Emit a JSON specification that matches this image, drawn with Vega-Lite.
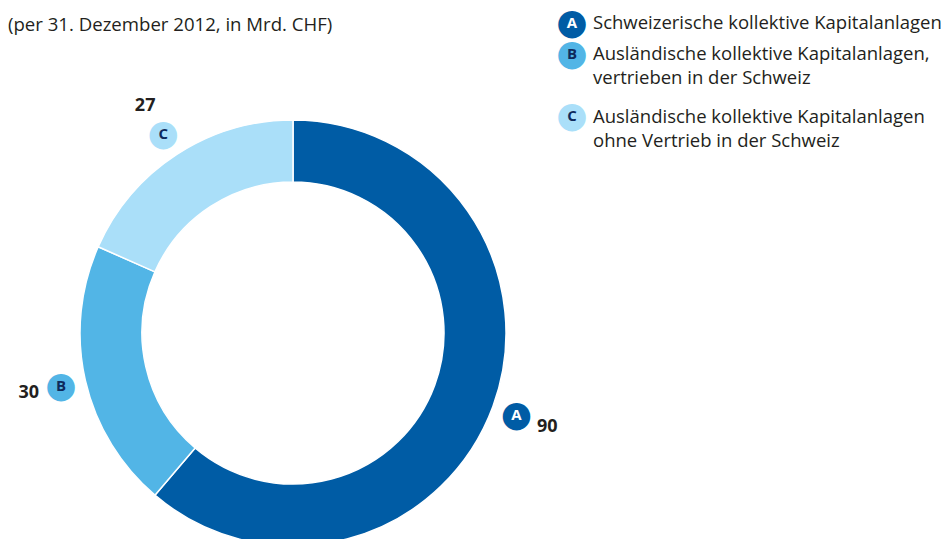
{
  "$schema": "https://vega.github.io/schema/vega-lite/v6.json",
  "padding": 0,
  "background": "white",
  "spacing": 0,
  "bounds": "flush",
  "config": {"view": {"stroke": null}, "font": "Open Sans"},
  "data": {"values": [
    {"key": "A", "value": 90, "label": "Schweizerische kollektive Kapitalanlagen"},
    {"key": "B", "value": 30, "label": "Ausländische kollektive Kapitalanlagen,\nvertrieben in der Schweiz"},
    {"key": "C", "value": 27, "label": "Ausländische kollektive Kapitalanlagen\nohne Vertrieb in der Schweiz"}
  ]},
  "hconcat": [
    {
      "width": 586,
      "height": 666,
      "title": {"text": "(per 31. Dezember 2012, in Mrd. CHF)", "anchor": "start", "offset": -35, "dx": 8, "fontSize": 18.6, "fontWeight": "normal", "font": "Open Sans", "color": "#231F20"},
      "encoding": {
        "theta": {"field": "value", "type": "quantitative", "stack": true},
        "order": {"field": "key", "type": "ordinal", "sort": "ascending"},
        "detail": {"field": "key", "type": "nominal"}
      },
      "layer": [
        {
          "mark": {"type": "arc", "outerRadius": 213, "innerRadius": 151, "stroke": "#ffffff", "strokeWidth": 1.5},
          "encoding": {"color": {"field": "key", "type": "nominal", "scale": {"domain": ["A", "B", "C"], "range": ["#005CA5", "#52B5E6", "#AADFF9"]}, "legend": null}}
        },
        {
          "mark": {"type": "text", "radius": 238, "text": "●", "font": "DejaVu Sans", "fontSize": 36, "baseline": "middle", "align": "center"},
          "encoding": {"color": {"field": "key", "type": "nominal", "scale": {"domain": ["A", "B", "C"], "range": ["#005CA5", "#52B5E6", "#AADFF9"]}, "legend": null}}
        },
        {
          "mark": {"type": "text", "radius": 238, "fontWeight": "bold", "fontSize": 15, "baseline": "middle", "align": "center"},
          "encoding": {
            "text": {"field": "key", "type": "nominal"},
            "color": {"condition": {"test": "datum.key === 'A'", "value": "#ffffff"}, "value": "#0E2A5C"}
          }
        },
        {
          "mark": {"type": "text", "radius": 271, "fontWeight": "bold", "fontSize": 18, "baseline": "middle", "align": "center"},
          "encoding": {
            "text": {"field": "value", "type": "quantitative"},
            "color": {"value": "#231F20"}
          }
        }
      ]
    },
    {
      "width": 0,
      "height": 139,
      "encoding": {
        "y": {"field": "key", "type": "nominal", "scale": {"type": "point", "domain": ["A", "B", " ", "C"], "padding": 0.73}, "axis": null}
      },
      "layer": [
        {
          "mark": {"type": "text", "text": "●", "font": "DejaVu Sans", "fontSize": 36, "baseline": "middle", "align": "center", "dx": -24},
          "encoding": {"color": {"field": "key", "type": "nominal", "scale": {"domain": ["A", "B", "C"], "range": ["#005CA5", "#52B5E6", "#AADFF9"]}, "legend": null}}
        },
        {
          "mark": {"type": "text", "fontWeight": "bold", "fontSize": 15, "baseline": "middle", "align": "center", "dx": -24},
          "encoding": {
            "text": {"field": "key", "type": "nominal"},
            "color": {"condition": {"test": "datum.key === 'A'", "value": "#ffffff"}, "value": "#0E2A5C"}
          }
        },
        {
          "mark": {"type": "text", "align": "left", "baseline": "alphabetic", "dx": -3, "dy": 6.5, "fontSize": 18.5, "lineBreak": "\n", "lineHeight": 24, "color": "#231F20"},
          "encoding": {"text": {"field": "label", "type": "nominal"}}
        }
      ]
    }
  ]
}
